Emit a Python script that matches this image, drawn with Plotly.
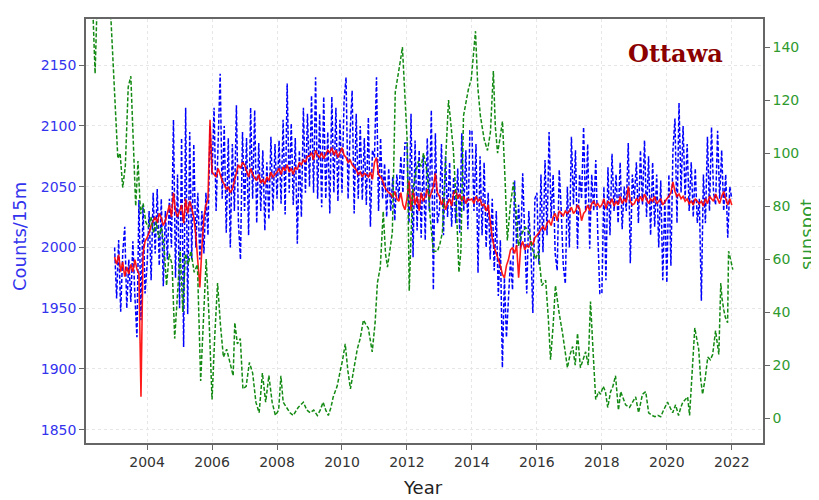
import plotly.graph_objects as go

# ---------------- data ----------------
# Cosmic-ray counts (Counts/15m), 16 samples per year, rows = years 2003..2021
count_years = list(range(2003, 2022))
counts_blue = [
    [2000, 1958, 2006, 1947, 1995, 2017, 1950, 1990, 1955, 2005, 1960, 1926, 2039, 1940, 2035, 1962],  # 2003
    [1985, 2030, 1973, 2045, 1995, 2048, 1985, 2040, 1968, 2030, 1990, 2040, 2000, 2105, 1975, 2060],  # 2004
    [1950, 2090, 1918, 2115, 1945, 2095, 1990, 2085, 2000, 2045, 1990, 2030, 1995, 2045, 2010, 2100],  # 2005
    [2060, 2115, 2030, 2080, 2143, 2040, 2100, 2012, 2090, 2000, 2085, 2030, 2117, 2020, 1990, 2095],  # 2006
    [2030, 2090, 2010, 2115, 2040, 2113, 2020, 2086, 2030, 2080, 2014, 2070, 2023, 2091, 2030, 2085],  # 2007
    [2040, 2088, 2036, 2105, 2027, 2135, 2045, 2102, 2035, 2090, 2003, 2080, 2025, 2115, 2045, 2110],  # 2008
    [2050, 2125, 2045, 2140, 2040, 2110, 2033, 2124, 2040, 2095, 2028, 2124, 2045, 2115, 2038, 2105],  # 2009
    [2045, 2120, 2140, 2040, 2095, 2129, 2028, 2110, 2040, 2100, 2039, 2090, 2035, 2107, 2017, 2080],  # 2010
    [2074, 2140, 2030, 2090, 2040, 2069, 2025, 2065, 2030, 2058, 2022, 2060, 2040, 2075, 2045, 2086],  # 2011
    [2086, 2020, 2110, 1992, 2088, 2014, 2080, 2008, 2075, 2006, 2090, 2030, 2113, 1965, 2094, 2020],  # 2012
    [2030, 2085, 2010, 2075, 2025, 2070, 2017, 2058, 2020, 2065, 2012, 2094, 2030, 2080, 2015, 2096],  # 2013
    [2096, 2030, 2085, 1979, 2075, 2010, 2070, 2000, 2045, 1990, 2040, 1981, 2030, 1960, 2006, 1901],  # 2014
    [1975, 1926, 1960, 1990, 1965, 2055, 2000, 2035, 1999, 2061, 2010, 1962, 2030, 2000, 1946, 2040],  # 2015
    [2045, 1986, 2060, 1996, 2072, 2010, 2095, 2024, 2060, 1995, 1981, 2064, 2030, 1985, 1970, 2050],  # 2016
    [2000, 2091, 2035, 2080, 1999, 2060, 2040, 2099, 2030, 2085, 1999, 2060, 2030, 2072, 2010, 1962],  # 2017
    [1962, 2050, 1973, 2066, 2010, 2077, 2030, 2060, 2020, 2070, 2015, 2050, 2030, 2086, 1987, 2060],  # 2018
    [2040, 2070, 2020, 2080, 2035, 2088, 2025, 2075, 2010, 2070, 2017, 2060, 2000, 2055, 1973, 2040],  # 2019
    [1971, 2060, 1985, 2080, 2106, 2020, 2119, 2045, 2100, 2040, 2085, 2030, 2070, 2025, 2065, 2020],  # 2020
    [2040, 1956, 2060, 2020, 2091, 2030, 2099, 2045, 2035, 2096, 2040, 2080, 2030, 2060, 2008, 2050],  # 2021
]
counts_red = [
    [1992, 1986, 1994, 1980, 1988, 1976, 1984, 1978, 1986, 1980, 1990, 1982, 1978, 1877, 1995, 2005],  # 2003
    [2008, 2012, 2018, 2022, 2025, 2020, 2028, 2024, 2018, 2022, 2030, 2035, 2025, 2045, 2030, 2025],  # 2004
    [2030, 2035, 2020, 2040, 2028, 2038, 2032, 2025, 2010, 1990, 1967, 2000, 2025, 2035, 2040, 2105],  # 2005
    [2062, 2060, 2058, 2065, 2060, 2055, 2052, 2048, 2050, 2045, 2048, 2055, 2062, 2068, 2065, 2070],  # 2006
    [2068, 2062, 2058, 2065, 2060, 2057, 2055, 2060, 2053, 2056, 2052, 2058, 2055, 2062, 2058, 2060],  # 2007
    [2062, 2065, 2060, 2066, 2063, 2068, 2062, 2065, 2060, 2066, 2064, 2070, 2068, 2072, 2070, 2075],  # 2008
    [2075, 2078, 2072, 2080, 2076, 2074, 2078, 2073, 2076, 2080, 2078, 2082, 2076, 2080, 2074, 2078],  # 2009
    [2082, 2076, 2074, 2070, 2072, 2068, 2066, 2064, 2060, 2062, 2058, 2061, 2060, 2058, 2062, 2056],  # 2010
    [2070, 2074, 2060, 2058, 2055, 2050, 2047, 2045, 2044, 2041, 2046, 2040, 2038, 2045, 2035, 2031],  # 2011
    [2040, 2055, 2030, 2048, 2035, 2042, 2030, 2045, 2038, 2042, 2048, 2040, 2045, 2050, 2061, 2045],  # 2012
    [2042, 2035, 2040, 2031, 2036, 2040, 2034, 2045, 2047, 2040, 2044, 2038, 2042, 2036, 2040, 2039],  # 2013
    [2040, 2036, 2042, 2038, 2040, 2034, 2036, 2030, 2035, 2020, 2008, 2000, 1995, 1990, 1985, 1978],  # 2014
    [1975, 1985, 1990, 1998, 2000, 1995, 2002, 1975, 2000, 2005, 1998, 2002, 2000, 2005, 2002, 2008],  # 2015
    [2010, 2012, 2015, 2017, 2014, 2020, 2022, 2018, 2025, 2028, 2022, 2030, 2028, 2026, 2030, 2028],  # 2016
    [2030, 2033, 2028, 2030, 2035, 2032, 2022, 2028, 2030, 2035, 2030, 2036, 2038, 2034, 2036, 2033],  # 2017
    [2035, 2040, 2032, 2038, 2036, 2040, 2034, 2038, 2035, 2042, 2036, 2040, 2037, 2050, 2038, 2035],  # 2018
    [2036, 2040, 2038, 2042, 2038, 2044, 2040, 2036, 2040, 2038, 2042, 2036, 2038, 2040, 2035, 2038],  # 2019
    [2040, 2042, 2045, 2054, 2046, 2042, 2044, 2040, 2042, 2038, 2040, 2036, 2038, 2035, 2040, 2038],  # 2020
    [2036, 2038, 2034, 2040, 2036, 2042, 2040, 2038, 2044, 2040, 2036, 2042, 2046, 2040, 2035, 2040],  # 2021
]
final_year = 2022.0
final_blue = 2040
final_red = 2035

# Monthly sunspot number
sunspot_time = [
    2002.12, 2002.20, 2002.30, 2002.40, 2002.47, 2002.55, 2002.65, 2002.75, 2002.85, 2002.95,
    2003.02, 2003.10, 2003.17, 2003.25, 2003.33, 2003.42, 2003.50, 2003.58, 2003.65, 2003.72,
    2003.80, 2003.88, 2003.96, 2004.04, 2004.12, 2004.20, 2004.28, 2004.36, 2004.44, 2004.52,
    2004.60, 2004.68, 2004.77, 2004.85, 2004.93, 2005.02, 2005.10, 2005.18, 2005.27, 2005.35,
    2005.45, 2005.55, 2005.65, 2005.73, 2005.82, 2005.90, 2006.00, 2006.08, 2006.17, 2006.26,
    2006.35, 2006.45, 2006.55, 2006.65, 2006.70, 2006.78, 2006.87, 2006.95, 2007.05, 2007.15,
    2007.25, 2007.35, 2007.45, 2007.55, 2007.65, 2007.75, 2007.85, 2007.95, 2008.05, 2008.12,
    2008.19, 2008.30, 2008.40, 2008.50, 2008.65, 2008.81, 2008.92, 2009.02, 2009.13, 2009.24,
    2009.33, 2009.42, 2009.50, 2009.58, 2009.66, 2009.73, 2009.85, 2009.95, 2010.02, 2010.10,
    2010.18, 2010.26, 2010.36, 2010.47, 2010.56, 2010.66, 2010.75, 2010.81, 2010.93, 2011.02,
    2011.09, 2011.18, 2011.27, 2011.34, 2011.40, 2011.48, 2011.55, 2011.64, 2011.72, 2011.80,
    2011.86, 2011.94, 2012.01, 2012.07, 2012.12, 2012.17, 2012.26, 2012.35, 2012.44, 2012.51,
    2012.63, 2012.72, 2012.81, 2012.94, 2013.02, 2013.09, 2013.18, 2013.28, 2013.43, 2013.52,
    2013.60, 2013.66, 2013.74, 2013.89, 2013.98, 2014.11, 2014.18, 2014.26, 2014.38, 2014.48,
    2014.57, 2014.66, 2014.72, 2014.79, 2014.87, 2014.94, 2015.02, 2015.09, 2015.18, 2015.28,
    2015.36, 2015.43, 2015.55, 2015.65, 2015.76, 2015.86, 2015.96, 2016.05, 2016.15, 2016.27,
    2016.35, 2016.42, 2016.50, 2016.57, 2016.68, 2016.79, 2016.94, 2017.02, 2017.10, 2017.18,
    2017.25, 2017.34, 2017.42, 2017.50, 2017.58, 2017.65, 2017.73, 2017.81, 2017.90, 2017.96,
    2018.04, 2018.11, 2018.18, 2018.27, 2018.34, 2018.42, 2018.51, 2018.58, 2018.64, 2018.73,
    2018.85, 2018.95, 2019.04, 2019.13, 2019.25, 2019.35, 2019.44, 2019.55, 2019.63, 2019.72,
    2019.81, 2019.90, 2020.02, 2020.10, 2020.18, 2020.27, 2020.36, 2020.43, 2020.49, 2020.57,
    2020.64, 2020.70, 2020.78, 2020.86, 2020.92, 2020.98, 2021.04, 2021.10, 2021.18, 2021.26,
    2021.34, 2021.41, 2021.50, 2021.56, 2021.60, 2021.66, 2021.70, 2021.75, 2021.80, 2021.87,
    2021.90, 2021.96, 2022.03,
]
sunspot_number = [
    170, 185, 165, 130, 160, 180, 175, 155, 160, 135,
    120, 98, 100, 87, 95, 125, 129, 104, 80, 97,
    77, 81, 74, 72, 76, 70, 74, 68, 72, 65,
    50, 62, 58, 30, 47, 63, 40, 62, 58, 63,
    55, 58, 14, 35, 60, 40, 7, 30, 51, 35,
    23, 26, 21, 16, 36, 28, 30, 11, 12, 21,
    17, 6, 2, 17, 6, 16, 6, 1, 3, 16,
    6, 4, 2, 1, 4, 6, 3, 2, 3, 1,
    3, 6, 3, 1, 4, 8, 12, 18, 22, 28,
    18, 11, 18, 26, 30, 37, 35, 34, 25, 36,
    51, 57, 78, 62, 57, 65, 70, 123, 130, 135,
    140, 120, 104, 48, 70, 85, 92, 97, 95, 100,
    92, 75, 63, 63, 66, 70, 95, 120, 101, 80,
    55, 63, 114, 124, 128, 146, 125, 114, 105, 101,
    108, 131, 110, 100, 106, 112, 90, 67, 80, 89,
    78, 65, 70, 72, 70, 64, 60, 63, 50, 52,
    38, 22, 35, 50, 40, 32, 19, 24, 27, 20,
    32, 19, 22, 25, 20, 44, 25, 7, 10, 9,
    12, 10, 4, 10, 12, 16, 3, 10, 8, 5,
    4, 6, 8, 2, 9, 10, 2, 1, 0.5, 1,
    0.5, 3, 6, 4, 2, 5, 1, 4, 6, 7,
    8, 1, 20, 34, 30, 26, 15, 9, 15, 23,
    22, 24, 33, 28, 24, 51, 45, 41, 38, 36,
    63, 60, 56,
]

x_ticks = [2004, 2006, 2008, 2010, 2012, 2014, 2016, 2018, 2020, 2022]
y_ticks = [1850, 1900, 1950, 2000, 2050, 2100, 2150]
y2_ticks = [0, 20, 40, 60, 80, 100, 120, 140]

# ---------------- assemble series ----------------
t_counts, v_blue, v_red = [], [], []
for yr, rb, rr in zip(count_years, counts_blue, counts_red):
    n = len(rb)
    for k in range(n):
        t_counts.append(yr + k / n)
        v_blue.append(rb[k])
        v_red.append(rr[k])
t_counts.append(final_year)
v_blue.append(final_blue)
v_red.append(final_red)

# ---------------- figure ----------------
# The page body has an 8px margin, so the figure is placed at (8, 8) in the window.
OFF = 8
W, H = 819 - OFF, 500 - OFF
PL, PR, PT, PB = 86, 763, 19, 443           # plot-area edges in window pixels
L, T = PL - OFF, PT - OFF
R, B = W - (PR - OFF), H - (PB - OFF)
pw, ph = W - L - R, H - T - B

def px_x(px):
    return (px - PL) / pw

def px_y(py):
    return (PB - py) / ph

fig = go.Figure()
fig.add_trace(go.Scatter(x=t_counts, y=v_blue, mode="lines",
                         line=dict(color="#0000ff", width=1.5, dash="4px,2px"),
                         showlegend=False, yaxis="y"))
fig.add_trace(go.Scatter(x=t_counts, y=v_red, mode="lines",
                         line=dict(color="rgba(255,0,0,0.9)", width=1.6),
                         showlegend=False, yaxis="y"))
fig.add_trace(go.Scatter(x=sunspot_time, y=sunspot_number, mode="lines",
                         line=dict(color="#138a13", width=1.5, dash="4px,2px"),
                         showlegend=False, yaxis="y2"))

axis_line = "#666666"
tick_font = "DejaVu Sans"
fig.update_layout(
    width=W, height=H,
    margin=dict(l=L, r=R, t=T, b=B, pad=0),
    paper_bgcolor="white", plot_bgcolor="white",
    xaxis=dict(range=[2002.12, 2022.96], tickvals=x_ticks,
               ticktext=[str(v) for v in x_ticks],
               tickfont=dict(family=tick_font, size=14, color="#333333"),
               ticks="outside", ticklen=5, tickwidth=1.2, tickcolor=axis_line,
               showline=True, linecolor=axis_line, linewidth=1.5, mirror=True,
               showgrid=True, gridcolor="#e6e6e6", griddash="dot", gridwidth=1,
               zeroline=False, automargin=False),
    yaxis=dict(range=[1839, 2188], tickvals=y_ticks,
               tickfont=dict(family=tick_font, size=14, color="#3333ee"),
               ticks="outside", ticklen=5, tickwidth=1.2, tickcolor=axis_line,
               showline=True, linecolor=axis_line, linewidth=1.5,
               showgrid=True, gridcolor="#e6e6e6", griddash="dot", gridwidth=1,
               zeroline=False, automargin=False),
    yaxis2=dict(range=[-9.4, 150.6], tickvals=y2_ticks, overlaying="y", side="right",
                tickfont=dict(family=tick_font, size=14, color="#2e9a2e"),
                ticks="outside", ticklen=5, tickwidth=1.2, tickcolor=axis_line,
                showline=True, linecolor=axis_line, linewidth=1.5,
                showgrid=False, zeroline=False, automargin=False),
    annotations=[
        dict(text="Counts/15m", xref="paper", yref="paper", x=px_x(20), y=px_y(237),
             textangle=-90, showarrow=False, xanchor="center", yanchor="middle",
             font=dict(family=tick_font, size=18, color="#3333ee")),
        dict(text="sunspot", xref="paper", yref="paper", x=px_x(806), y=px_y(235),
             textangle=-90, showarrow=False, xanchor="center", yanchor="middle",
             font=dict(family=tick_font, size=18, color="#2e9a2e")),
        dict(text="Year", xref="paper", yref="paper", x=px_x(423), y=px_y(487),
             showarrow=False, xanchor="center", yanchor="middle",
             font=dict(family=tick_font, size=18, color="#222222")),
        dict(text="<b>Ottawa</b>", xref="paper", yref="paper", x=px_x(675), y=px_y(53),
             showarrow=False, xanchor="center", yanchor="middle",
             font=dict(family="DejaVu Serif", size=24, color="#8b0000")),
    ],
)

fig.write_html("out.html")
